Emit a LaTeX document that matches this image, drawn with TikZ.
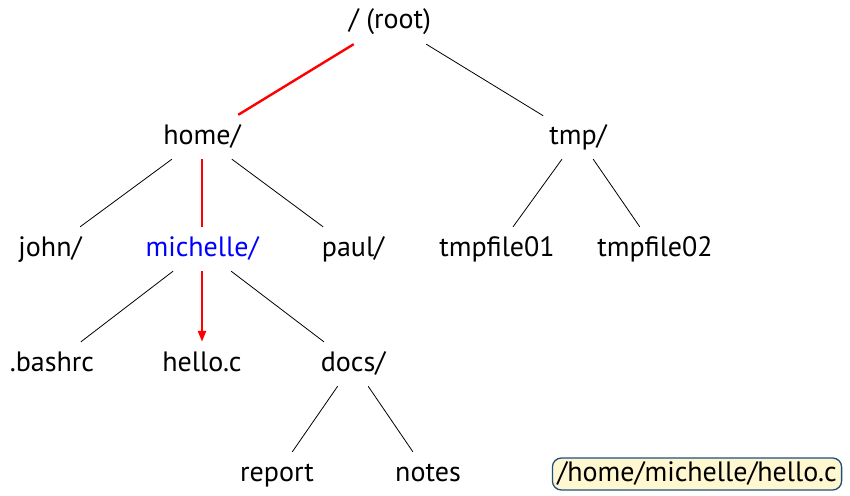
\documentclass[tikz,border=0pt]{standalone}
\usepackage{fontspec}
\setmainfont{PT Sans}
\usetikzlibrary{arrows.meta}
\definecolor{pathfill}{HTML}{FFF7CF}
\definecolor{pathdraw}{HTML}{1F4E79}
\begin{document}
\begin{tikzpicture}[x=1pt,y=-1pt,
  every node/.style={font=\fontsize{28}{32}\selectfont, text height=20pt, text depth=6pt, inner ysep=9pt, inner xsep=6pt},
  edge/.style={draw=black, line width=0.8pt},
  hot/.style={draw=red, line width=2.4pt},
  hotarrow/.style={hot, -{Triangle[length=11pt,width=8pt]}},
  pathbox/.style={draw=pathdraw, fill=pathfill, line width=1.3pt, rounded corners=9pt, inner xsep=5pt, inner ysep=3pt}]
\useasboundingbox (0,0) rectangle (850,495);
\node (root) at (390,22) {/ (root)};
\node (home) at (202,137) {home/};
\node (tmp) at (578,137) {tmp/};
\node (john) at (50,249) {john/};
\node[text=blue] (michelle) at (202,249) {michelle/};
\node (paul) at (353,249) {paul/};
\node (tf1) at (497,249) {tmpfile01};
\node (tf2) at (655,249) {tmpfile02};
\node (bashrc) at (52,364) {.bashrc};
\node (hello) at (202,364) {hello.c};
\node (docs) at (353,364) {docs/};
\node (report) at (277,474) {report};
\node (notes) at (428,474) {notes};
\node[pathbox] (path) at (697,474) {/home/michelle/hello.c};
\draw[hot] (root) -- (home);
\draw[edge] (root) -- (tmp);
\draw[edge] (home) -- (john);
\draw[hot] (home) -- (michelle);
\draw[edge] (home) -- (paul);
\draw[edge] (tmp) -- (tf1);
\draw[edge] (tmp) -- (tf2);
\draw[edge] (michelle) -- (bashrc);
\draw[hotarrow] (michelle) -- (hello);
\draw[edge] (michelle) -- (docs);
\draw[edge] (docs) -- (report);
\draw[edge] (docs) -- (notes);
\end{tikzpicture}
\end{document}
